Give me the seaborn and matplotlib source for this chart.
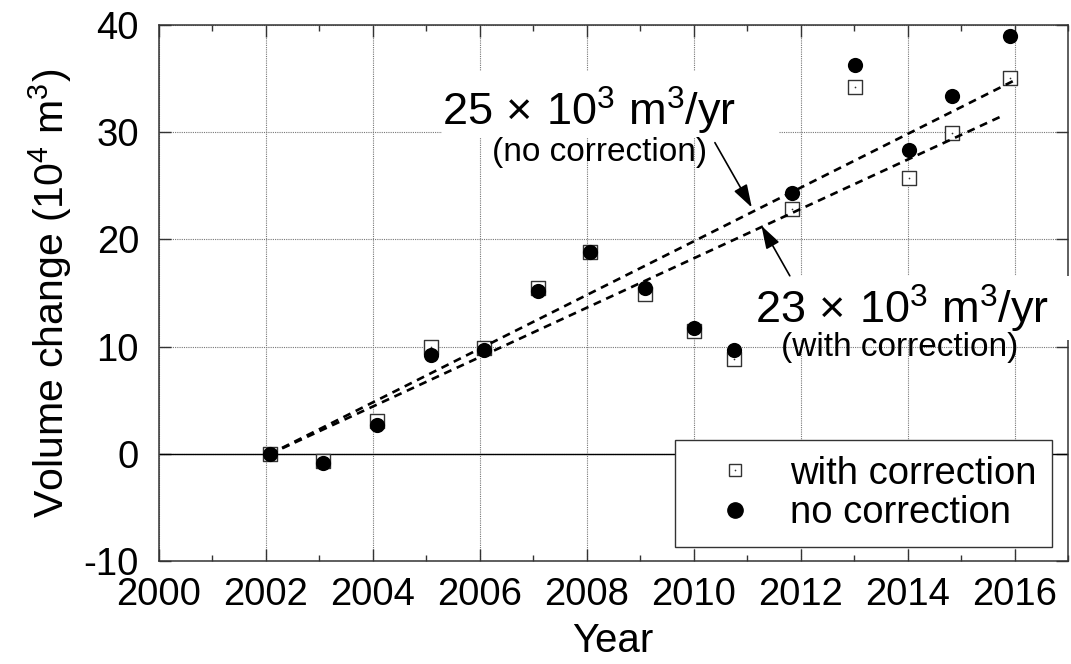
import numpy as np
import pandas as pd
import seaborn as sns
import matplotlib
matplotlib.use("Agg")
import matplotlib.pyplot as plt
from matplotlib.patches import Rectangle
from matplotlib.ticker import MultipleLocator

# Survey epochs (decimal year) and cumulative volume change (10^4 m^3)
years = [2002.08, 2003.07, 2004.08, 2005.09, 2006.08, 2007.09, 2008.06,
         2009.09, 2010.01, 2010.76, 2011.84, 2013.02, 2014.02, 2014.84, 2015.92]
with_correction = [0.0, -0.65, 3.05, 9.95, 9.9, 15.5, 18.85,
                   14.95, 11.5, 8.85, 22.8, 34.2, 25.7, 29.9, 35.0]
no_correction = [0.0, -0.85, 2.7, 9.2, 9.7, 15.2, 18.85,
                 15.5, 11.75, 9.7, 24.3, 36.2, 28.3, 33.35, 38.9]

# Linear trends (rates in 10^3 m^3/yr)
rate_no_corr = 25
rate_with_corr = 23
trend_start = 2002.08
trend_end_no_corr = 2016.0
trend_end_with_corr = 2015.8

legend_labels = ["with correction", "no correction"]
x_ticks = list(range(2000, 2017, 2))
y_ticks = list(range(-10, 41, 10))

sns.set_theme(style="white")
plt.rcParams["font.family"] = ["Liberation Sans", "DejaVu Sans"]
plt.rcParams["mathtext.fontset"] = "custom"
plt.rcParams["mathtext.rm"] = "Liberation Sans"
plt.rcParams["mathtext.it"] = "Liberation Sans:italic"
plt.rcParams["axes.unicode_minus"] = False
for key in ["text.color", "axes.labelcolor", "xtick.color", "ytick.color"]:
    plt.rcParams[key] = "black"

fig = plt.figure(figsize=(10.71, 6.64), dpi=100)
ax = fig.add_axes([0.148, 0.1544, 0.8492, 0.8087])

df = pd.DataFrame({"year": years, "with": with_correction, "no": no_correction})

# zero reference line
ax.axhline(0, color="black", lw=1.0, zorder=1.5)

# corrected series: open squares with a centre dot
sns.scatterplot(data=df, x="year", y="with", ax=ax, marker="s", s=115,
                facecolor="white", edgecolor="#333333", linewidth=1.0, zorder=3)
sns.scatterplot(data=df, x="year", y="with", ax=ax, marker="o", s=1.5,
                color="#333333", linewidth=0, zorder=3.1)
# uncorrected series: filled circles
sns.scatterplot(data=df, x="year", y="no", ax=ax, marker="o", s=120,
                color="black", linewidth=0, zorder=4)

# trend lines, rate converted to 10^4 m^3/yr
for rate, t_end in [(rate_no_corr, trend_end_no_corr),
                    (rate_with_corr, trend_end_with_corr)]:
    tx = np.array([trend_start, t_end])
    ty = rate / 10.0 * (tx - trend_start)
    sns.lineplot(x=tx, y=ty, ax=ax, color="black", lw=1.9, zorder=5,
                 dashes=False, linestyle=(0, (3.0, 2.2)))

ax.set_xlim(2000, 2017)
ax.set_ylim(-10, 40)
ax.set_xticks(x_ticks)
ax.set_yticks(y_ticks)
ax.xaxis.set_minor_locator(MultipleLocator(1))
ax.tick_params(which="both", direction="in", top=True, right=True,
               bottom=True, left=True, color="#333333")
ax.tick_params(which="major", length=8.5, width=1.0, labelsize=27.5)
ax.tick_params(which="minor", length=4.3, width=1.0)
ax.tick_params(axis="y", pad=14)
ax.tick_params(axis="x", pad=11)
ax.grid(True, which="major", color="#777777", lw=0.8, linestyle=(0, (1, 1)))
for sp in ax.spines.values():
    sp.set_color("#333333")
    sp.set_linewidth(1.1)

ax.set_xlabel("Year", fontsize=29, labelpad=7)
ax.set_ylabel("Volume change (10$^4$ m$^3$)", fontsize=29.5, labelpad=7)

# white panels behind the rate labels
ax.add_patch(Rectangle((2005.3, 29.4), 6.3, 6.3, facecolor="white",
                       edgecolor="none", zorder=2.6))
ax.add_patch(Rectangle((2010.87, 10.6), 6.2, 6.0, facecolor="white",
                       edgecolor="none", zorder=2.6, clip_on=False))

rate_fmt = "{}$\\,\\times\\,$10$^3$ m$^3$/yr"
ax.text(2008.05, 30.6, rate_fmt.format(rate_no_corr), fontsize=32.5,
        ha="center", va="baseline", zorder=6)
ax.text(2008.24, 27.3, "(no correction)", fontsize=24,
        ha="center", va="baseline", zorder=6)
ax.text(2013.89, 12.1, rate_fmt.format(rate_with_corr), fontsize=32.5,
        ha="center", va="baseline", zorder=6)
ax.text(2013.86, 9.1, "(with correction)", fontsize=24,
        ha="center", va="baseline", zorder=6)

arrow_style = dict(arrowstyle="-|>,head_length=1.4,head_width=0.45",
                   mutation_scale=10, color="black", lw=1.2,
                   shrinkA=0, shrinkB=0)
ax.annotate("", xy=(2011.09, 22.96), xytext=(2010.40, 29.0),
            arrowprops=arrow_style, zorder=6)
ax.annotate("", xy=(2011.27, 21.26), xytext=(2011.80, 16.6),
            arrowprops=arrow_style, zorder=6)

# legend
h_sq = plt.Line2D([], [], marker="s", ms=8, mfc="white", mec="#333333",
                  mew=1.0, ls="none")
h_dot = plt.Line2D([], [], marker="o", ms=1.2, mfc="#333333", mec="none",
                   ls="none")
h_circ = plt.Line2D([], [], marker="o", ms=11, mfc="black", mec="black",
                    ls="none")
leg = ax.legend([(h_sq, h_dot), h_circ], legend_labels, loc="lower right",
                bbox_to_anchor=(0.982, 0.0276), borderaxespad=0,
                fontsize=27.5, frameon=True, fancybox=False, framealpha=1,
                borderpad=0.4, handlelength=2.35, handletextpad=0.25,
                labelspacing=0.1)
leg.get_frame().set_edgecolor("#333333")
leg.get_frame().set_linewidth(1.0)
leg.set_zorder(7)

fig.savefig("out.png", dpi=100)
